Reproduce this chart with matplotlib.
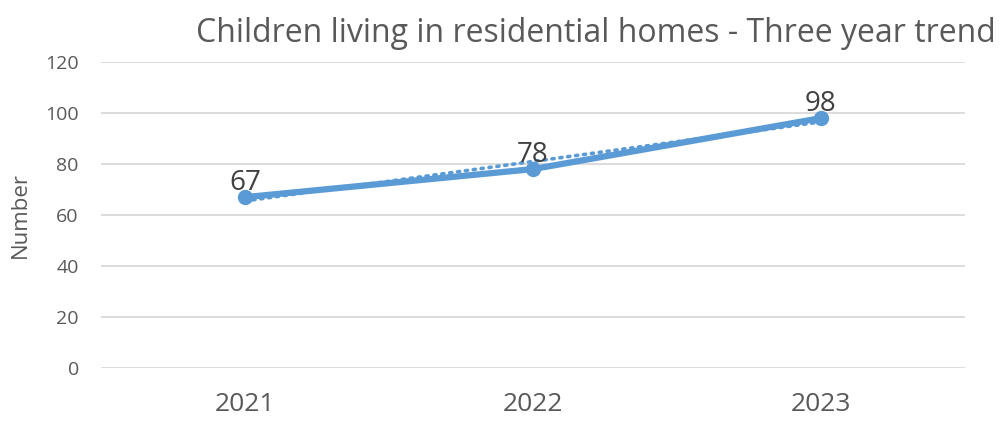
import numpy as np
import matplotlib.pyplot as plt

plt.rcParams['font.family'] = ['Open Sans', 'DejaVu Sans']

years = ['2021', '2022', '2023']
children = [67, 78, 98]
y_ticks = [0, 20, 40, 60, 80, 100, 120]

line_col = '#5B9BD5'
text_col = '#595959'

fig = plt.figure(figsize=(10.03, 4.21), dpi=100)
ax = fig.add_axes([101 / 1003, 1 - 368 / 421, 864 / 1003, 306 / 421])

x = np.arange(len(years))
# linear trendline as Excel draws it
k, b = np.polyfit(x, children, 1)
ax.plot(x, k * x + b, color=line_col, lw=2.6, ls=(0, (0.6, 1.6)),
        dash_capstyle='round', zorder=3)
ax.plot(x, children, color=line_col, lw=4.5, marker='o', ms=10,
        solid_capstyle='round', zorder=4)

for xi, v in zip(x, children):
    ax.annotate(str(v), (xi, v), xytext=(0, 0), textcoords='offset points',
                ha='center', va='bottom', fontsize=20, color='#404040', zorder=5)

ax.set_xlim(-0.5, 2.5)
ax.set_ylim(0, 120)
ax.set_yticks(y_ticks)
ax.set_xticks(x)
ax.set_xticklabels(years)
ax.tick_params(axis='y', length=0, pad=16, labelsize=14, labelcolor=text_col)
ax.tick_params(axis='x', length=0, pad=17, labelsize=19, labelcolor=text_col)
ax.grid(axis='y', color='#D9D9D9', lw=1.3)
ax.set_axisbelow(True)
for s in ax.spines.values():
    s.set_visible(False)

ax.set_ylabel('Number', fontsize=16, color=text_col, labelpad=10)
fig.text(596 / 1003, 1 - 42 / 421, 'Children living in residential homes - Three year trend',
         ha='center', va='baseline', fontsize=23, color=text_col)

fig.savefig('out.png', dpi=100)
